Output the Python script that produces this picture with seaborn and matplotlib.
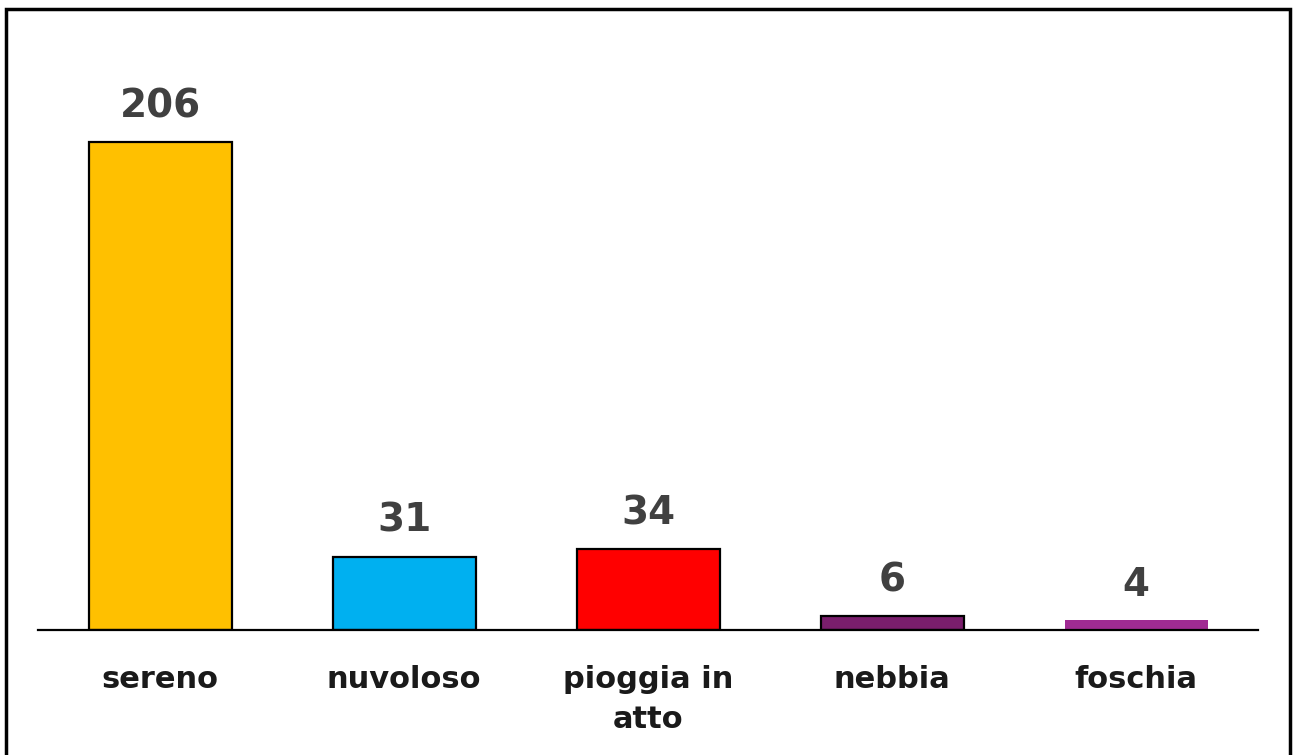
import pandas as pd
import matplotlib.pyplot as plt
import matplotlib.patches as patches
import seaborn as sns

categorie = ['sereno', 'nuvoloso', 'pioggia in\natto', 'nebbia', 'foschia']
valori = [206, 31, 34, 6, 4]
colori = ['#FFC000', '#00B0F0', '#FF0000', '#7A1E6C', '#A02B93']
bordi = ['black', 'black', 'black', 'black', 'none']

df = pd.DataFrame({'condizione': categorie, 'giorni': valori})

sns.set_style('white')
plt.rcParams['font.family'] = ['DejaVu Sans']

fig = plt.figure(figsize=(12.98, 7.55), dpi=100)
ax = fig.add_axes([0.0293, 0.1656, 0.94, 0.7814])

sns.barplot(data=df, x='condizione', y='giorni', hue='condizione',
            palette=colori, width=0.586, saturation=1, legend=False, ax=ax)

for bar, ec in zip(ax.patches, bordi):
    bar.set_edgecolor(ec)
    bar.set_linewidth(1.6)

for i, v in enumerate(valori):
    ax.annotate(str(v), (i, v), xytext=(0, 12), textcoords='offset points',
                ha='center', va='bottom', fontsize=28, fontweight='bold',
                color='#404040')

ax.set_xlim(-0.5, 4.5)
ax.set_ylim(0, 249)
ax.set_xlabel('')
ax.set_ylabel('')
ax.set_yticks([])
ax.tick_params(axis='x', length=0, pad=25, labelsize=22, labelcolor='#1a1a1a')
for lab in ax.get_xticklabels():
    lab.set_fontweight('bold')
    lab.set_linespacing(1.5)

for s in ['top', 'right', 'left']:
    ax.spines[s].set_visible(False)
ax.spines['bottom'].set_color('black')
ax.spines['bottom'].set_linewidth(1.6)

# cornice esterna
fig.patches.append(patches.Rectangle((6 / 1298, -0.02), 1284 / 1298, 1 - 9 / 755 + 0.02,
                                     transform=fig.transFigure, fill=False,
                                     edgecolor='black', linewidth=2.5))

fig.savefig('out.png', dpi=100, facecolor='white')
